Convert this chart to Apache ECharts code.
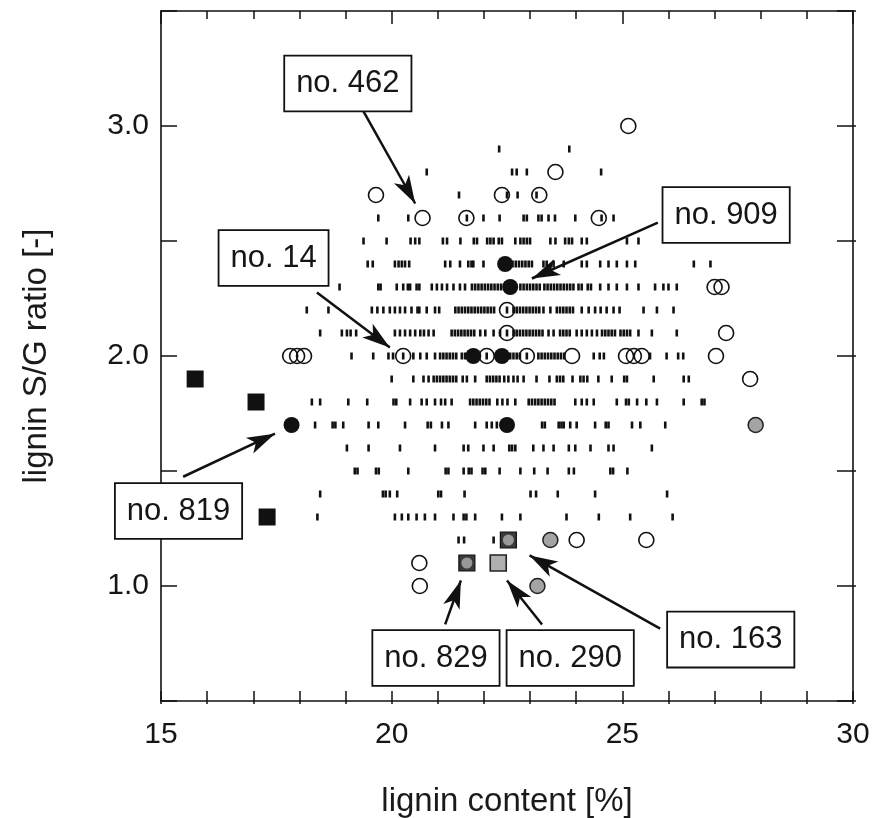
<!DOCTYPE html>
<html><head><meta charset="utf-8">
<script src="https://cdn.jsdelivr.net/npm/echarts@6/dist/echarts.min.js"></script>
<style>html,body{margin:0;padding:0;background:#fff}#c{width:872px;height:818px}</style>
</head><body><div id="c"></div>
<script>
// ---- data: lignin content [%] values of small dash marks, one array per S/G ratio row ----
const sg29 = [22.33, 23.85];
const sg28 = [20.76, 22.61, 22.71, 22.93, 24.54];
const sg27 = [21.46, 22.50, 22.73, 23.14];
const sg26 = [19.71, 20.36, 21.63, 21.99, 22.34, 22.86, 22.93, 23.18, 23.25, 23.40, 23.54, 23.98, 24.55, 24.81];
const sg25 = [19.39, 19.89, 20.41, 20.51, 20.60, 21.11, 21.20, 21.49, 21.78, 21.85, 22.07, 22.14, 22.21, 22.32, 22.39, 22.68, 22.79, 22.86, 22.93, 23.00, 23.44, 23.55, 23.76, 23.84, 23.91, 24.12, 24.23, 25.10, 25.35];
const sg24 = [19.48, 19.59, 20.07, 20.15, 20.22, 20.29, 20.38, 21.16, 21.27, 21.48, 21.66, 21.73, 21.77, 21.99, 22.55, 22.62, 22.69, 22.76, 22.83, 22.90, 22.97, 23.04, 23.29, 23.36, 23.51, 23.73, 24.12, 24.23, 24.52, 24.70, 24.88, 25.10, 25.28, 26.55, 26.91];
const sg23 = [18.87, 19.71, 19.76, 20.11, 20.25, 20.35, 20.40, 20.54, 20.60, 20.87, 20.98, 21.09, 21.20, 21.34, 21.48, 21.59, 21.74, 21.81, 21.88, 21.95, 22.02, 22.09, 22.16, 22.23, 22.30, 22.37, 22.44, 22.51, 22.65, 22.79, 22.86, 22.93, 23.00, 23.07, 23.14, 23.21, 23.31, 23.38, 23.45, 23.52, 23.59, 23.66, 23.73, 23.80, 23.87, 23.94, 24.05, 24.12, 24.25, 24.32, 24.52, 24.70, 24.88, 25.10, 25.35, 25.71, 25.89, 26.00, 26.18];
const sg22 = [18.16, 18.63, 19.57, 19.69, 19.82, 19.96, 20.07, 20.18, 20.29, 20.43, 20.56, 20.60, 20.76, 20.94, 21.03, 21.38, 21.45, 21.52, 21.59, 21.66, 21.73, 21.80, 21.87, 21.94, 22.01, 22.08, 22.15, 22.22, 22.50, 22.64, 22.71, 22.78, 22.85, 22.92, 22.99, 23.06, 23.13, 23.20, 23.29, 23.44, 23.58, 23.65, 23.72, 23.79, 23.86, 23.93, 24.12, 24.27, 24.41, 24.53, 24.66, 24.81, 24.94, 25.46, 25.75, 26.11];
const sg21 = [18.45, 18.92, 19.03, 19.11, 19.23, 20.07, 20.18, 20.29, 20.40, 20.51, 20.62, 20.70, 20.80, 20.91, 21.30, 21.37, 21.44, 21.51, 21.58, 21.65, 21.72, 21.79, 21.92, 22.03, 22.21, 22.35, 22.50, 22.64, 22.71, 22.78, 22.85, 22.92, 22.99, 23.06, 23.13, 23.20, 23.27, 23.40, 23.51, 23.65, 23.72, 23.79, 23.86, 24.01, 24.12, 24.23, 24.34, 24.45, 24.56, 24.63, 24.70, 24.77, 24.84, 24.96, 25.03, 25.10, 25.17, 25.35, 25.64, 26.18];
const sg20 = [19.13, 19.60, 19.93, 20.03, 20.25, 20.47, 20.62, 20.76, 20.94, 21.05, 21.12, 21.19, 21.26, 21.33, 21.40, 21.52, 21.59, 21.66, 21.73, 21.80, 21.87, 22.06, 22.57, 22.64, 22.71, 22.78, 22.93, 23.18, 23.25, 23.32, 23.39, 23.46, 23.53, 23.60, 23.67, 23.74, 24.38, 24.51, 24.60, 25.60, 25.96, 26.21, 26.32];
const sg19 = [20.00, 20.47, 20.69, 20.80, 20.91, 20.98, 21.05, 21.12, 21.19, 21.26, 21.33, 21.40, 21.54, 21.63, 21.81, 22.06, 22.13, 22.20, 22.27, 22.34, 22.44, 22.53, 22.64, 22.73, 22.86, 23.14, 23.42, 23.58, 23.65, 23.72, 23.92, 24.09, 24.16, 24.24, 24.48, 24.77, 25.04, 25.10, 25.68, 26.33, 26.44];
const sg18 = [18.27, 18.45, 19.06, 19.47, 20.04, 20.10, 20.40, 20.65, 20.76, 20.94, 21.07, 21.16, 21.30, 21.70, 21.77, 21.84, 21.91, 21.98, 22.05, 22.12, 22.29, 22.40, 22.51, 22.68, 22.97, 23.04, 23.11, 23.18, 23.25, 23.32, 23.39, 23.46, 23.53, 23.98, 24.12, 24.23, 24.38, 24.88, 25.08, 25.14, 25.32, 25.52, 25.75, 26.33, 26.72, 26.78];
const sg17 = [18.34, 18.72, 18.78, 18.95, 19.50, 19.71, 20.29, 20.78, 20.85, 21.09, 21.23, 21.81, 22.06, 22.17, 22.28, 23.26, 23.32, 23.62, 23.68, 23.73, 23.87, 24.01, 24.41, 24.64, 24.70, 25.21, 25.39, 25.93];
const sg16 = [19.03, 19.50, 20.18, 20.94, 21.56, 21.66, 21.99, 22.21, 22.55, 22.61, 22.68, 23.07, 23.29, 23.51, 23.84, 23.98, 24.31, 24.70, 24.81, 25.64];
const sg15 = [19.20, 19.26, 19.66, 19.72, 20.36, 21.17, 21.23, 21.56, 21.67, 21.73, 21.97, 22.03, 22.34, 22.79, 23.09, 23.38, 23.84, 23.95, 24.74, 24.80, 25.11];
const sg14 = [18.45, 19.81, 19.87, 19.96, 20.12, 21.01, 21.07, 21.58, 23.01, 23.13, 23.60, 24.41, 25.97];
const sg13 = [18.39, 20.07, 20.22, 20.36, 20.54, 20.72, 20.94, 21.34, 21.56, 21.62, 21.81, 22.39, 22.79, 23.79, 24.49, 25.17, 26.09];
const sg12 = [21.45, 21.57, 22.21];
const dashRows = [[2.9, sg29], [2.8, sg28], [2.7, sg27], [2.6, sg26], [2.5, sg25], [2.4, sg24], [2.3, sg23], [2.2, sg22], [2.1, sg21], [2.0, sg20], [1.9, sg19], [1.8, sg18], [1.7, sg17], [1.6, sg16], [1.5, sg15], [1.4, sg14], [1.3, sg13], [1.2, sg12]];

// highlighted lines [lignin content, S/G ratio]
const openCircles = [[25.13, 3.0], [23.55, 2.8], [19.66, 2.7], [22.39, 2.7], [23.20, 2.7], [20.67, 2.6], [21.62, 2.6], [24.49, 2.6], [27.00, 2.3], [27.15, 2.3], [22.50, 2.2], [22.50, 2.1], [27.25, 2.1], [17.80, 2.0], [17.95, 2.0], [18.10, 2.0], [20.25, 2.0], [22.06, 2.0], [22.93, 2.0], [23.91, 2.0], [25.08, 2.0], [25.25, 2.0], [25.42, 2.0], [27.03, 2.0], [27.77, 1.9], [24.01, 1.2], [25.52, 1.2], [20.60, 1.1], [20.61, 1.0]];
const blackCircles = [[22.46, 2.4], [22.57, 2.3], [21.77, 2.0], [22.39, 2.0], [17.83, 1.7], [22.50, 1.7]];
const grayCircles = [[27.89, 1.7], [23.44, 1.2], [23.16, 1.0]];
const blackSquares = [[15.74, 1.9], [17.06, 1.8], [17.30, 1.3]];
const darkSquares = [[22.53, 1.2], [21.63, 1.1]];
const graySquares = [[22.31, 1.1]];

// annotations
const noteLabels = ['no. 462', 'no. 909', 'no. 14', 'no. 819', 'no. 829', 'no. 290', 'no. 163'];
const noteBoxX = [19.05, 27.25, 17.44, 15.38, 20.96, 23.87, 27.35];
const noteBoxY = [3.185, 2.613, 2.426, 1.326, 0.687, 0.687, 0.767];
const arrowFromX = [19.38, 25.77, 18.38, 15.48, 21.16, 23.26, 25.82];
const arrowFromY = [3.067, 2.580, 2.276, 1.475, 0.833, 0.833, 0.815];
const arrowToX = [20.51, 23.04, 19.96, 17.47, 21.50, 22.50, 22.99];
const arrowToY = [2.663, 2.337, 2.037, 1.662, 1.024, 1.024, 1.133];

const xTicks = ['15', '20', '25', '30'];
const yTicks = ['1.0', '2.0', '3.0'];

// ---- chart ----
const FONT = 'Liberation Sans, Arial, Helvetica, sans-serif';
const INK = '#111';
const dashes = dashRows.flatMap(([y, xs]) => xs.map(x => [x, y]));

const baseX = {type: 'value', min: 15, max: 30, interval: 1, splitLine: {show: false}, axisLabel: {show: false}, axisLine: {show: false}, axisTick: {show: false}};
const baseY = {type: 'value', min: 0.5, max: 3.5, interval: 0.5, splitLine: {show: false}, axisLabel: {show: false}, axisLine: {show: false}, axisTick: {show: false}};
const tickStyle = {color: INK, width: 1.5};

const chart = echarts.init(document.getElementById('c'), null, {renderer: 'canvas'});
chart.setOption({
  animation: false,
  backgroundColor: '#fff',
  grid: {left: 161, right: 19, top: 11, bottom: 117, containLabel: false, outerBoundsMode: 'none'},
  xAxis: [
    Object.assign({}, baseX, {
      position: 'bottom',
      axisLine: {show: true, onZero: false, lineStyle: {color: INK, width: 1.6}},
      axisTick: {show: true, inside: true, length: 10, lineStyle: tickStyle},
      axisLabel: {show: true, margin: 19, fontSize: 30, color: '#161616', fontFamily: FONT,
        formatter: v => xTicks.indexOf(String(Math.round(v))) >= 0 && Math.abs(v - Math.round(v)) < 1e-6 ? String(Math.round(v)) : ''},
      name: 'lignin content [%]', nameLocation: 'middle', nameGap: 84,
      nameTextStyle: {fontSize: 33, color: '#1a1a1a', fontFamily: FONT}
    }),
    Object.assign({}, baseX, {position: 'bottom', axisTick: {show: true, inside: false, length: 3, lineStyle: tickStyle}}),
    Object.assign({}, baseX, {position: 'top', axisLine: {show: true, onZero: false, lineStyle: {color: INK, width: 1.6}},
      axisTick: {show: true, inside: true, length: 8, lineStyle: tickStyle}}),
    Object.assign({}, baseX, {position: 'top', interval: 5, axisTick: {show: true, inside: true, length: 13, lineStyle: tickStyle}})
  ],
  yAxis: [
    Object.assign({}, baseY, {
      position: 'left',
      axisLine: {show: true, onZero: false, lineStyle: {color: INK, width: 1.6}},
      axisTick: {show: true, inside: true, length: 16, lineStyle: tickStyle},
      axisLabel: {show: true, margin: 12, fontSize: 30, color: '#161616', fontFamily: FONT,
        formatter: v => { const s = v.toFixed(1); return yTicks.indexOf(s) >= 0 ? s : ''; }},
      name: 'lignin S/G ratio [-]', nameLocation: 'middle', nameGap: 108,
      nameTextStyle: {fontSize: 33, color: '#1a1a1a', fontFamily: FONT}
    }),
    Object.assign({}, baseY, {position: 'right', axisLine: {show: true, onZero: false, lineStyle: {color: INK, width: 1.6}},
      axisTick: {show: true, inside: true, length: 16, lineStyle: tickStyle}}),
    Object.assign({}, baseY, {position: 'right', axisTick: {show: true, inside: false, length: 3, lineStyle: tickStyle}})
  ],
  series: [
    {type: 'scatter', name: 'dashes', data: dashes, symbol: 'rect', symbolSize: [2.6, 7],
      itemStyle: {color: INK, opacity: 1}, silent: true, z: 2},
    {type: 'scatter', name: 'open', data: openCircles, symbol: 'circle', symbolSize: 15,
      itemStyle: {color: 'rgba(0,0,0,0)', borderColor: INK, borderWidth: 1.6, opacity: 1}, silent: true, z: 3},
    {type: 'scatter', name: 'black', data: blackCircles, symbol: 'circle', symbolSize: 16,
      itemStyle: {color: INK, opacity: 1}, silent: true, z: 4},
    {type: 'scatter', name: 'gray', data: grayCircles, symbol: 'circle', symbolSize: 15,
      itemStyle: {color: '#a4a4a4', borderColor: '#222', borderWidth: 1.5, opacity: 1}, silent: true, z: 4},
    {type: 'scatter', name: 'blackSq', data: blackSquares, symbol: 'rect', symbolSize: 17,
      itemStyle: {color: INK, opacity: 1}, silent: true, z: 4},
    {type: 'scatter', name: 'darkSq', data: darkSquares, symbol: 'rect', symbolSize: 16,
      itemStyle: {color: '#3a3a3a', borderColor: '#111', borderWidth: 1.2, opacity: 1}, silent: true, z: 4},
    {type: 'scatter', name: 'darkSqInner', data: darkSquares, symbol: 'circle', symbolSize: 11,
      itemStyle: {color: '#999', opacity: 1}, silent: true, z: 5},
    {type: 'scatter', name: 'graySq', data: graySquares, symbol: 'rect', symbolSize: 16,
      itemStyle: {color: '#b0b0b0', borderColor: '#222', borderWidth: 1.6, opacity: 1}, silent: true, z: 4},
    {type: 'scatter', name: 'notes', silent: true, z: 10,
      data: noteLabels.map((t, i) => ({name: t, value: [noteBoxX[i], noteBoxY[i]]})),
      symbol: 'rect', symbolSize: 1, itemStyle: {color: 'rgba(0,0,0,0)', opacity: 1},
      label: {show: true, position: 'inside', formatter: p => p.name, fontSize: 31, color: '#161616',
        fontFamily: FONT, backgroundColor: '#fff', borderColor: INK, borderWidth: 1.8,
        padding: [11, 11, 10, 11], lineHeight: 33},
      markLine: {silent: true, symbol: ['none', 'arrow'], symbolSize: [13, 28], animation: false,
        lineStyle: {color: INK, width: 2.5, type: 'solid', opacity: 1}, label: {show: false},
        emphasis: {disabled: true},
        data: noteLabels.map((t, i) => [{coord: [arrowFromX[i], arrowFromY[i]]}, {coord: [arrowToX[i], arrowToY[i]]}])}
    }
  ]
});
</script></body></html>
